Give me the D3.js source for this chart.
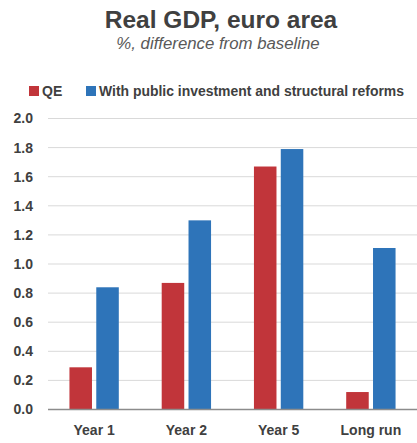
<!DOCTYPE html>
<html><head><meta charset="utf-8">
<script src="https://cdn.jsdelivr.net/npm/d3@7"></script>
<style>body{margin:0;background:#fff}svg{display:block;font-family:"Liberation Sans",Arial,sans-serif}</style>
</head><body>
<svg id="c" width="417" height="443"></svg>
<script>
const categories = ["Year 1", "Year 2", "Year 5", "Long run"];
const seriesNames = ["QE", "With public investment and structural reforms"];
const qeValues = [0.29, 0.87, 1.67, 0.12];
const reformValues = [0.84, 1.30, 1.79, 1.11];
const yTicks = [0.0, 0.2, 0.4, 0.6, 0.8, 1.0, 1.2, 1.4, 1.6, 1.8, 2.0];
const colors = ["#C1353A", "#2E74B9"];

(function(){
const svg = d3.select("#c");
const pLeft = 48, pRight = 417, pTop = 118.5, pBottom = 409.5;

const x = d3.scaleBand().domain(categories).range([pLeft, pRight]).paddingInner(0.465).paddingOuter(0.2325);
const xs = d3.scaleBand().domain([0,1]).range([0, x.bandwidth()]).paddingInner(0.16);
const y = d3.scaleLinear().domain([0, 2]).range([pBottom, pTop]);

// title
svg.append("text").attr("x", 221).attr("y", 28).attr("text-anchor", "middle")
  .attr("font-size", 24.5).attr("font-weight", "bold").attr("fill", "#404040").text("Real GDP, euro area");
svg.append("text").attr("x", 218).attr("y", 49).attr("text-anchor", "middle")
  .attr("font-size", 16.8).attr("font-style", "italic").attr("fill", "#595959").text("%, difference from baseline");

// grid
svg.append("g").selectAll("line").data(yTicks.filter(d => d > 0)).join("line")
  .attr("x1", pLeft).attr("x2", pRight).attr("y1", d => y(d)).attr("y2", d => y(d))
  .attr("stroke", "#d9d9d9").attr("stroke-width", 1);

// y axis
const yAxis = d3.axisLeft(y).tickValues(yTicks).tickFormat(d3.format(".1f")).tickSize(0).tickPadding(15);
const ya = svg.append("g").attr("transform", `translate(${pLeft},0)`).call(yAxis);
ya.select(".domain").remove();
ya.selectAll("text").attr("font-size", 14).attr("font-weight", "bold").attr("fill", "#404040")
  .attr("font-family", "Liberation Sans, Arial, sans-serif");

// bars
const data = categories.map((c, i) => ({c, vals: [qeValues[i], reformValues[i]]}));
const grp = svg.selectAll("g.cat").data(data).join("g").attr("class","cat").attr("transform", d => `translate(${x(d.c)},0)`);
grp.selectAll("rect").data(d => d.vals.map((v, k) => ({v, k}))).join("rect")
  .attr("x", d => xs(d.k)).attr("width", xs.bandwidth())
  .attr("y", d => y(d.v)).attr("height", d => y(0) - y(d.v))
  .attr("fill", d => colors[d.k]);

// zero axis line
svg.append("line").attr("x1", pLeft).attr("x2", pRight).attr("y1", y(0)).attr("y2", y(0))
  .attr("stroke", "#8c8c8c").attr("stroke-width", 1.5);

// x axis labels
const xAxis = d3.axisBottom(x).tickSize(0).tickPadding(16);
const xa = svg.append("g").attr("transform", `translate(0,${pBottom})`).call(xAxis);
xa.select(".domain").remove();
xa.selectAll("text").attr("font-size", 14).attr("font-weight", "bold").attr("fill", "#404040")
  .attr("font-family", "Liberation Sans, Arial, sans-serif");

// legend
const legX = [29, 86];
const leg = svg.selectAll("g.leg").data(seriesNames).join("g").attr("class","leg").attr("transform", (d, i) => `translate(${legX[i]},86)`);
leg.append("rect").attr("width", 10).attr("height", 10).attr("fill", (d, i) => colors[i]);
leg.append("text").attr("x", 13).attr("y", 9.5).attr("font-size", 14).attr("font-weight", "bold").attr("fill", "#404040")
  .text(d => d)
  .each(function(d, i){ if (i === 1) { d3.select(this).attr("textLength", 305).attr("lengthAdjust", "spacingAndGlyphs"); } });
})();
</script>
</body></html>
